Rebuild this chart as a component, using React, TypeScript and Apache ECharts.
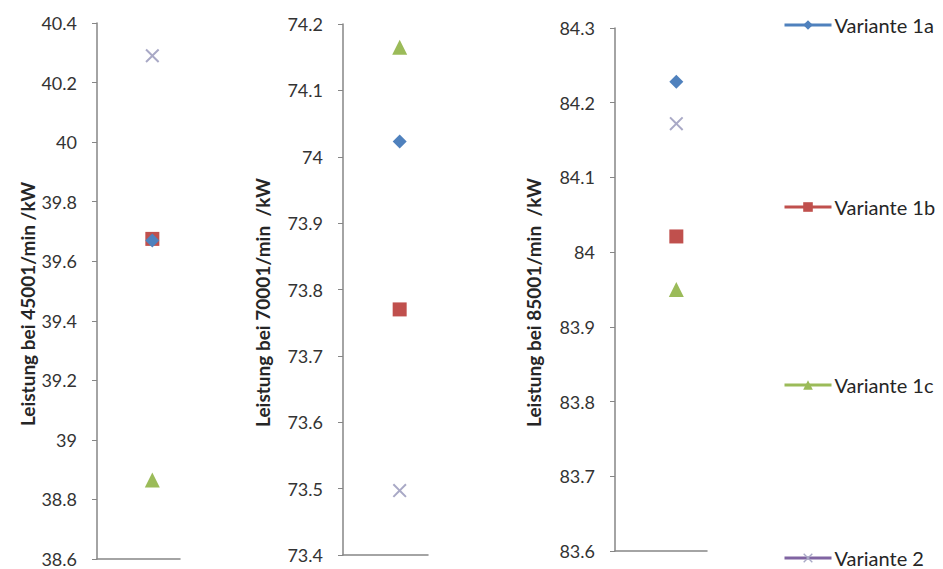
import React, { useEffect, useRef } from "react";
import * as echarts from "echarts";

const axisTitles = [
  "Leistung bei 45001/min /kW",
  "Leistung bei 70001/min  /kW",
  "Leistung bei 85001/min  /kW",
];
const variants = ["Variante 1a", "Variante 1b", "Variante 1c", "Variante 2"];
const variante1a = [39.67, 74.023, 84.228];
const variante1b = [39.675, 73.77, 84.021];
const variante1c = [38.865, 74.165, 83.95];
const variante2 = [40.29, 73.497, 84.172];
const yMin = [38.6, 73.4, 83.6];
const yMax = [40.4, 74.2, 84.3];
const yInterval = [0.2, 0.1, 0.1];
const xPos = 1;

const seriesValues = [variante1a, variante1b, variante1c, variante2];
const markerColors = ["#4F81BD", "#C0504D", "#9BBB59", "#A9A9C6"];
const lineColors = ["#4F81BD", "#C0504D", "#9BBB59", "#8064A2"];
const symbols = [
  "diamond",
  "rect",
  "triangle",
  "path://M0,1L1,0L5,4L9,0L10,1L6,5L10,9L9,10L5,6L1,10L0,9L4,5Z",
];
const symbolSizes = [14, 14, 15, 14];

const grids = [
  { left: 97, top: 23, width: 83, height: 536 },
  { left: 343, top: 24, width: 85, height: 531 },
  { left: 615, top: 28, width: 92, height: 523 },
];
const nameGaps = [60, 71, 72];
const legendTops = [15, 197, 375, 548];

const FONT = "Lato";

export default function App() {
  const ref = useRef<HTMLDivElement>(null);
  useEffect(() => {
    if (!ref.current) return;
    const chart = echarts.init(ref.current, null, { renderer: "svg" });
    const series: any[] = [];
    for (let g = 0; g < 3; g++) {
      for (let s = 0; s < 4; s++) {
        series.push({
          type: "line",
          name: variants[s],
          xAxisIndex: g,
          yAxisIndex: g,
          data: [[xPos, seriesValues[s][g]]],
          symbol: symbols[s],
          symbolSize: symbolSizes[s],
          itemStyle: { color: markerColors[s] },
          lineStyle: { color: lineColors[s], width: 3 },
          z: s === 0 ? 5 : 3,
        });
      }
    }
    chart.setOption({
      animation: false,
      grid: grids,
      xAxis: grids.map((_, i) => ({
        type: "value",
        gridIndex: i,
        min: 0,
        max: 1.5,
        axisLine: { show: true, lineStyle: { color: "#868686", width: 1.5 } },
        axisTick: { show: false },
        axisLabel: { show: false },
        splitLine: { show: false },
      })),
      yAxis: grids.map((_, i) => ({
        type: "value",
        gridIndex: i,
        min: yMin[i],
        max: yMax[i],
        interval: yInterval[i],
        name: axisTitles[i],
        nameLocation: "middle",
        nameRotate: 90,
        nameGap: nameGaps[i],
        nameTextStyle: {
          fontFamily: FONT,
          fontSize: 19,
          fontWeight: "bold",
          color: "#262626",
          padding: [0, 26, 0, 0],
        },
        axisLine: { show: true, lineStyle: { color: "#868686", width: 1.5 } },
        axisTick: { show: true, length: 5, lineStyle: { color: "#868686" } },
        axisLabel: {
          fontFamily: FONT,
          fontSize: 18,
          color: "#333333",
          margin: 20,
        },
        splitLine: { show: false },
      })),
      legend: variants.map((v, i) => ({
        orient: "vertical",
        left: 783,
        top: legendTops[i],
        padding: 0,
        itemWidth: 47,
        itemHeight: 12,
        data: [v],
        lineStyle: { width: 3 },
        textStyle: {
          fontFamily: FONT,
          fontSize: 20,
          color: "#262626",
          padding: [0, 0, 0, -2],
        },
      })),
      series,
    });
    return () => chart.dispose();
  }, []);
  return (
    <div
      ref={ref}
      style={{ position: "fixed", left: 0, top: 0, width: 943, height: 569, background: "#fff" }}
    />
  );
}
